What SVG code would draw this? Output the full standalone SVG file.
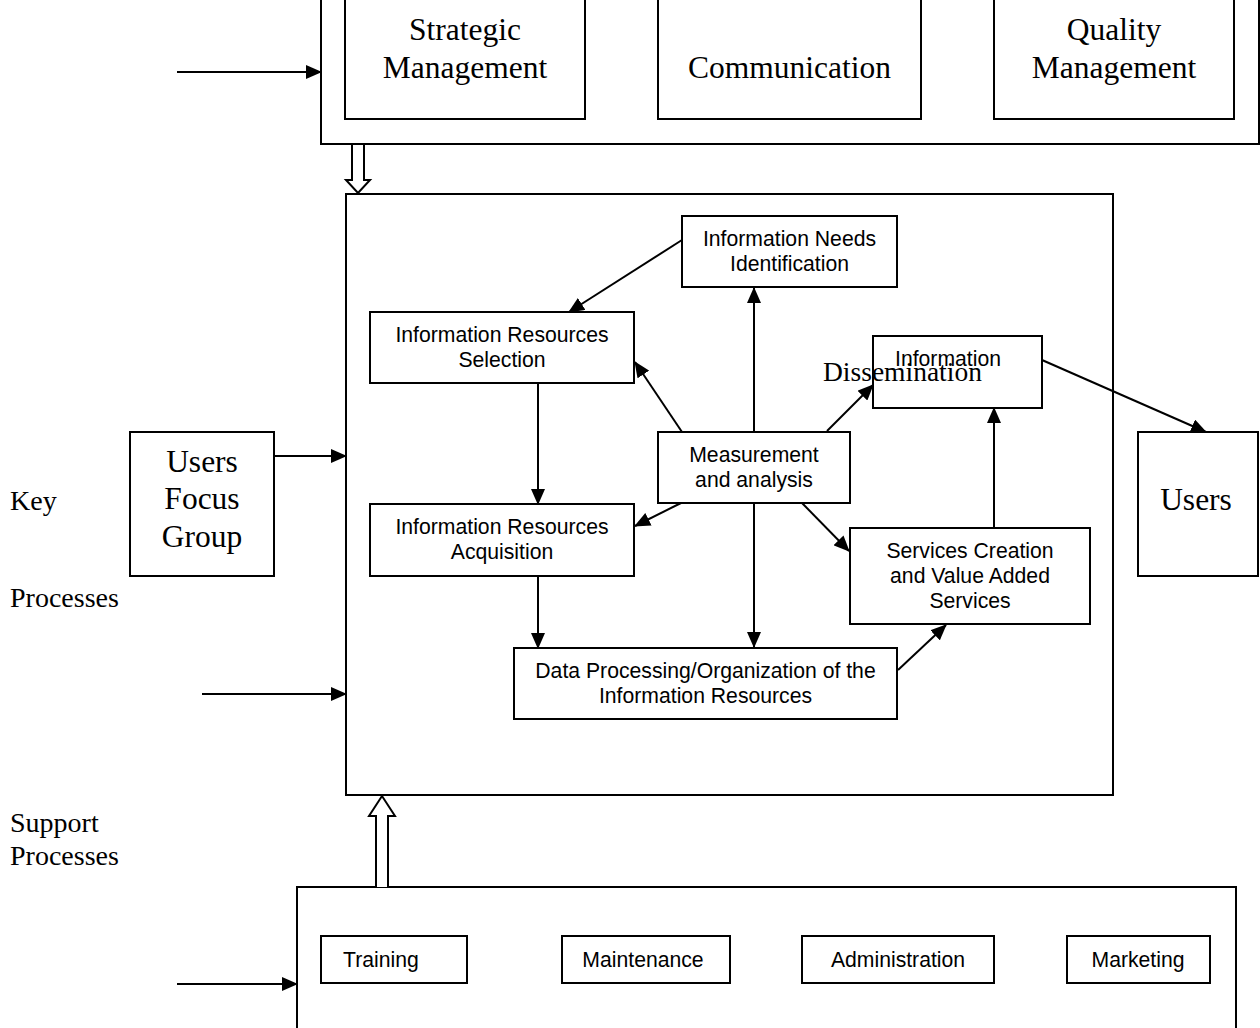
<svg xmlns="http://www.w3.org/2000/svg" width="1260" height="1028" viewBox="0 0 1260 1028">
<style>
.box{fill:#fff;stroke:#000;stroke-width:2}
.frame{fill:none;stroke:#000;stroke-width:2}
.hollow{fill:#fff;stroke:#000;stroke-width:2;stroke-linejoin:miter}
.s{font-family:"Liberation Sans",Arial,sans-serif;font-size:21.2px;fill:#000;text-anchor:middle}
.t{font-family:"Liberation Serif","Times New Roman",serif;font-size:31.5px;fill:#000;text-anchor:middle}
.lbl{font-family:"Liberation Serif","Times New Roman",serif;font-size:28px;fill:#000}
.c line{stroke:#000;stroke-width:2;marker-end:url(#ah)}
</style>
<defs>
<marker id="ah" viewBox="0 0 16 14" refX="15" refY="7" markerWidth="16" markerHeight="14" markerUnits="userSpaceOnUse" orient="auto"><path d="M0,0 L16,7 L0,14 z" fill="#000"/></marker>
</defs>
<rect width="1260" height="1028" fill="#fff"/>

<g id="management-processes">
<rect class="frame" x="321" y="-10" width="938" height="154"/>
</g>
<g id="strategic-management"><rect class="box" x="345" y="-10" width="240" height="129"/><text class="t" x="465" y="40">Strategic</text><text class="t" x="465" y="78">Management</text></g>
<g id="communication"><rect class="box" x="658" y="-10" width="263" height="129"/><text class="t" x="789.5" y="78">Communication</text></g>
<g id="quality-management"><rect class="box" x="994" y="-10" width="240" height="129"/><text class="t" x="1114" y="40">Quality</text><text class="t" x="1114" y="78">Management</text></g>

<g id="key-processes"><rect class="frame" x="346" y="194" width="767" height="601"/></g>

<g id="info-needs"><rect class="box" x="682" y="216" width="215" height="71"/><text class="s" x="789.5" y="246">Information Needs</text><text class="s" x="789.5" y="271">Identification</text></g>
<g id="ir-selection"><rect class="box" x="370" y="312" width="264" height="71"/><text class="s" x="502" y="342">Information Resources</text><text class="s" x="502" y="367">Selection</text></g>
<g id="info-dissemination"><rect class="box" x="873" y="336" width="169" height="72"/><text class="s" x="948" y="366">Information</text><text class="lbl" x="823" y="381" style="font-size:27.5px">Dissemination</text></g>
<g id="measurement"><rect class="box" x="658" y="432" width="192" height="71"/><text class="s" x="754" y="462">Measurement</text><text class="s" x="754" y="487">and analysis</text></g>
<g id="ir-acquisition"><rect class="box" x="370" y="504" width="264" height="72"/><text class="s" x="502" y="534">Information Resources</text><text class="s" x="502" y="559">Acquisition</text></g>
<g id="services-creation"><rect class="box" x="850" y="528" width="240" height="96"/><text class="s" x="970" y="558">Services Creation</text><text class="s" x="970" y="583">and Value Added</text><text class="s" x="970" y="608">Services</text></g>
<g id="data-processing"><rect class="box" x="514" y="648" width="383" height="71"/><text class="s" x="705.5" y="678">Data Processing/Organization of the</text><text class="s" x="705.5" y="703">Information Resources</text></g>

<g id="users-focus-group"><rect class="box" x="130" y="432" width="144" height="144"/><text class="t" x="202" y="472">Users</text><text class="t" x="202" y="509">Focus</text><text class="t" x="202" y="547">Group</text></g>
<g id="users"><rect class="box" x="1138" y="432" width="120" height="144"/><text class="t" x="1196" y="510">Users</text></g>

<g id="labels">
<text class="lbl" x="10" y="510">Key</text>
<text class="lbl" x="10" y="607">Processes</text>
<text class="lbl" x="10" y="832">Support</text>
<text class="lbl" x="10" y="865">Processes</text>
</g>

<g id="support-processes"><rect class="frame" x="297" y="887" width="939" height="160"/></g>
<g id="training"><rect class="box" x="321" y="936" width="146" height="47"/><text class="s" x="381" y="967">Training</text></g>
<g id="maintenance"><rect class="box" x="562" y="936" width="168" height="47"/><text class="s" x="643" y="967">Maintenance</text></g>
<g id="administration"><rect class="box" x="802" y="936" width="192" height="47"/><text class="s" x="898" y="967">Administration</text></g>
<g id="marketing"><rect class="box" x="1067" y="936" width="143" height="47"/><text class="s" x="1138" y="967">Marketing</text></g>

<g id="connectors" class="c">
<line x1="177" y1="72" x2="321" y2="72"/>
<line x1="274" y1="456" x2="346" y2="456"/>
<line x1="202" y1="694" x2="346" y2="694"/>
<line x1="177" y1="984" x2="297" y2="984"/>
<line x1="682" y1="240" x2="569" y2="312"/>
<line x1="682" y1="432" x2="635" y2="362"/>
<line x1="754" y1="432" x2="754" y2="288"/>
<line x1="754" y1="503" x2="754" y2="647"/>
<line x1="827" y1="431" x2="873" y2="385"/>
<line x1="681" y1="503" x2="635" y2="526"/>
<line x1="802" y1="503" x2="849" y2="551"/>
<line x1="538" y1="383" x2="538" y2="504"/>
<line x1="538" y1="576" x2="538" y2="648"/>
<line x1="898" y1="670" x2="946" y2="625"/>
<line x1="994" y1="528" x2="994" y2="408"/>
<line x1="1042" y1="360" x2="1206" y2="432"/>
<path class="hollow" d="M352,145 L352,180 L346,180 L358,193 L370,180 L364,180 L364,145"/>
<path class="hollow" d="M376,887 L376,816 L369,816 L382,796 L395,816 L388,816 L388,887"/>
</g>
</svg>
